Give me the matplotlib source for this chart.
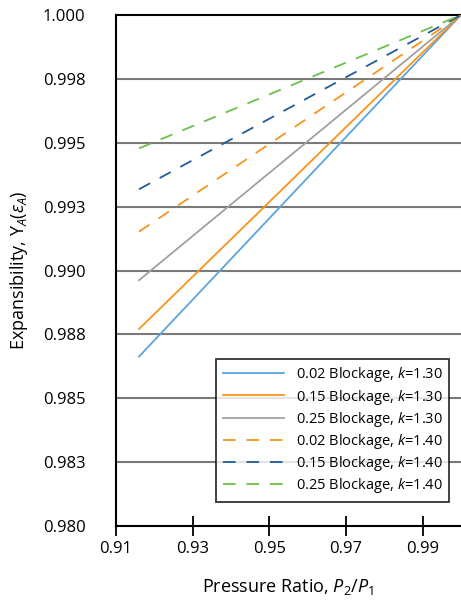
import matplotlib.pyplot as plt
from matplotlib.ticker import FixedLocator

plt.rcParams['font.family'] = ['Open Sans', 'DejaVu Sans']
plt.rcParams['mathtext.fontset'] = 'custom'
plt.rcParams['mathtext.rm'] = 'Open Sans'
plt.rcParams['mathtext.it'] = 'Open Sans:italic'

# pressure ratio P2/P1 (start and end of each curve)
pressure_ratio = [0.916, 1.0]

# expansibility values
y_002_k130 = [0.98663, 1.0]
y_015_k130 = [0.98771, 1.0]
y_025_k130 = [0.98962, 1.0]
y_002_k140 = [0.99152, 1.0]
y_015_k140 = [0.99318, 1.0]
y_025_k140 = [0.99478, 1.0]

labels = [
    '0.02 Blockage, $\\mathit{k}$=1.30',
    '0.15 Blockage, $\\mathit{k}$=1.30',
    '0.25 Blockage, $\\mathit{k}$=1.30',
    '0.02 Blockage, $\\mathit{k}$=1.40',
    '0.15 Blockage, $\\mathit{k}$=1.40',
    '0.25 Blockage, $\\mathit{k}$=1.40',
]

x_ticks = [0.91, 0.93, 0.95, 0.97, 0.99]
y_ticks = [0.980, 0.9825, 0.985, 0.9875, 0.990, 0.9925, 0.995, 0.9975, 1.000]
y_tick_labels = ['0.980', '0.983', '0.985', '0.988', '0.990',
                 '0.993', '0.995', '0.998', '1.000']

series = [y_002_k130, y_015_k130, y_025_k130, y_002_k140, y_015_k140, y_025_k140]
colors = ['#5AA5DC', '#F7941D', '#A0A0A0', '#F7941D', '#1F5C99', '#6CC04A']
solid = [True, True, True, False, False, False]

fig = plt.figure(figsize=(4.61, 6.03), dpi=100)
ax = fig.add_axes([0.2516, 0.1277, 0.7484, 0.8474])

for yv in y_ticks[1:-1]:
    ax.axhline(yv, color='#7a7a7a', lw=1.5, zorder=1)

for vals, c, s, lab in zip(series, colors, solid, labels):
    if s:
        ax.plot(pressure_ratio, vals, color=c, lw=1.3, label=lab, zorder=3)
    else:
        ax.plot(pressure_ratio, vals, color=c, lw=1.3, dashes=(7, 6),
                label=lab, zorder=3)

ax.set_xlim(0.91, 1.0)
ax.set_ylim(0.980, 1.000)
ax.xaxis.set_major_locator(FixedLocator(x_ticks))
ax.set_xticklabels([f'{v:.2f}' for v in x_ticks])
ax.yaxis.set_major_locator(FixedLocator(y_ticks))
ax.set_yticklabels(y_tick_labels)

ax.tick_params(axis='x', direction='inout', length=14, width=1.3,
               labelsize=12, pad=4)
ax.tick_params(axis='y', length=0, labelsize=12, pad=22)

ax.spines['right'].set_visible(False)
for side in ['left', 'bottom', 'top']:
    ax.spines[side].set_linewidth(1.5)
    ax.spines[side].set_color('black')

ax.set_xlabel('Pressure Ratio, $\\mathit{P}_{\\mathit{2}}/\\mathit{P}_{\\mathit{1}}$',
              fontsize=13, labelpad=14)
ax.set_ylabel('Expansibility, $\\mathrm{Y}_{\\mathit{A}}(\\mathit{\\varepsilon}_{\\mathit{A}})$',
              fontsize=13, labelpad=9)

leg = ax.legend(loc='lower right', bbox_to_anchor=(0.966, 0.047),
                fontsize=10.5, frameon=True, fancybox=False,
                handlelength=4.2, handletextpad=0.8, labelspacing=0.22,
                borderpad=0.45, borderaxespad=0)
leg.get_frame().set_edgecolor('black')
leg.get_frame().set_linewidth(1.3)
leg.set_zorder(5)

fig.savefig('out.png', dpi=100)
